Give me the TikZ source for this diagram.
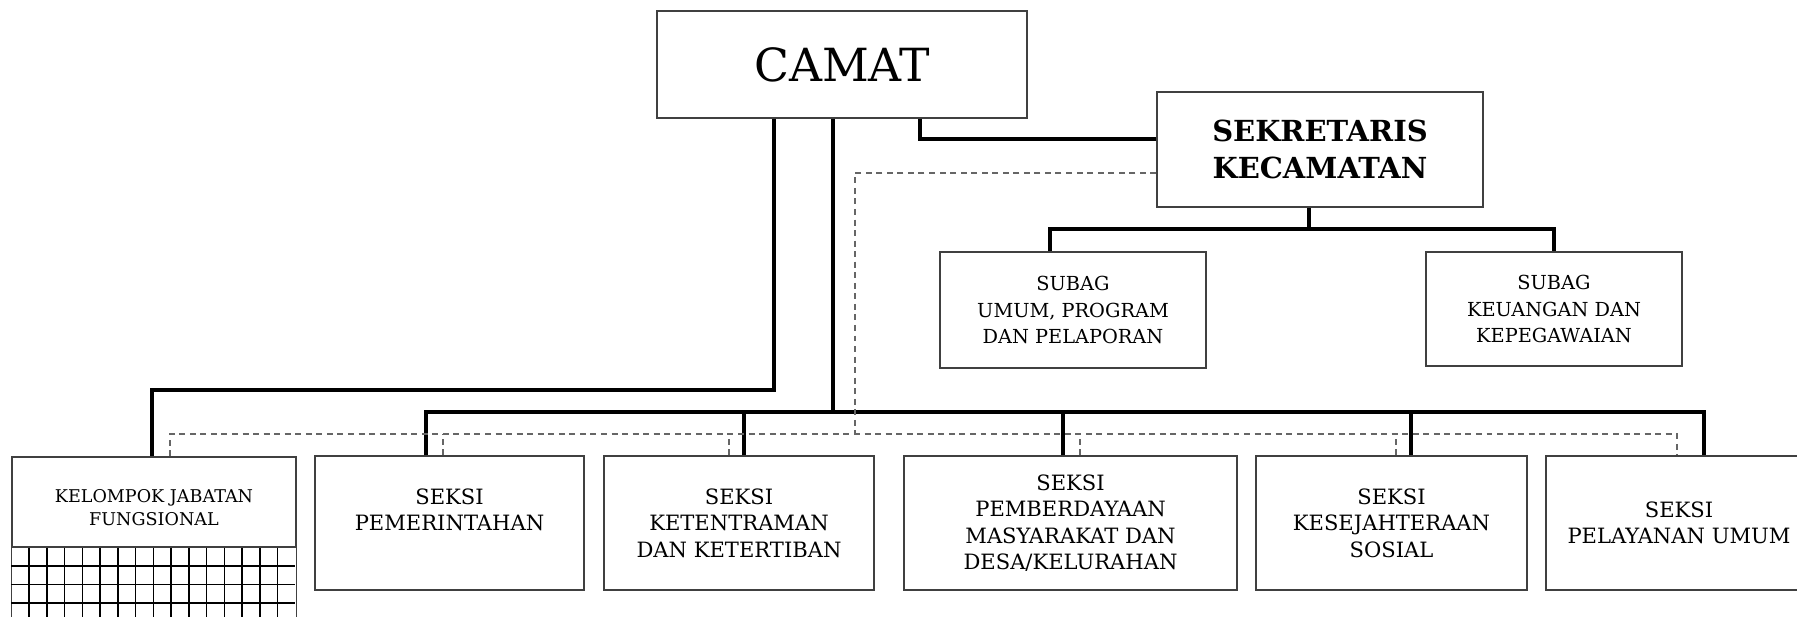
\documentclass[tikz,border=0pt]{standalone}
\usepackage{fontspec}
\setmainfont{DejaVu Serif}
\usetikzlibrary{calc}
\tikzset{%
	unit/.style     = {draw=black!75, line width=0.8pt, rectangle, align=center, inner sep=2pt},
	seksi/.style    = {unit, minimum height=2.68cm, font=\fontsize{12}{15}\selectfont},
	subag/.style    = {unit, font=\fontsize{11}{15.3}\selectfont},
	link/.style     = {line width=2.2pt, line join=miter},
	staff/.style    = {draw=black!60, line width=0.8pt, dash pattern=on 3.4pt off 2.6pt},
	gridline/.style = {line width=0.9pt, black},
}

\begin{document}
\begin{tikzpicture}[x=0.02cm, y=-0.02cm]
	\useasboundingbox (0,0) rectangle (1797,617);
	\clip (0,0) rectangle (1797,617);

	\node[unit, minimum width=7.4cm, minimum height=2.14cm, font=\fontsize{26}{30}\selectfont] (camat) at (842,64.5) {CAMAT};
	\node[unit, minimum width=6.52cm, minimum height=2.3cm, font=\bfseries\fontsize{16.5}{21.5}\selectfont] (sekr) at (1320,149.5) {SEKRETARIS\\KECAMATAN};
	\node[subag, minimum width=5.32cm, minimum height=2.32cm] (subag1) at (1073,310) {SUBAG\\UMUM, PROGRAM\\DAN PELAPORAN};
	\node[subag, minimum width=5.12cm, minimum height=2.28cm] (subag2) at (1554,309) {SUBAG\\KEUANGAN DAN\\KEPEGAWAIAN};

	\node[unit, minimum width=5.68cm, minimum height=1.8cm, font=\fontsize{10}{13}\selectfont] (kjf) at (154,502) {\rule{0pt}{14pt}KELOMPOK JABATAN\\FUNGSIONAL};
	\node[seksi, minimum width=5.38cm] (pem) at (449.5,523) {SEKSI\\PEMERINTAHAN\\\mbox{}};
	\node[seksi, minimum width=5.4cm] (ket) at (739,523) {SEKSI\\KETENTRAMAN\\DAN KETERTIBAN};
	\node[seksi, minimum width=6.66cm] (pemb) at (1070.5,523) {SEKSI\\PEMBERDAYAAN\\MASYARAKAT DAN\\DESA/KELURAHAN};
	\node[seksi, minimum width=5.42cm] (kesej) at (1391.5,523) {SEKSI\\KESEJAHTERAAN\\SOSIAL};
	\node[seksi, minimum width=5.32cm] (pelay) at (1679,523) {SEKSI\\PELAYANAN UMUM};

	\draw[unit] (kjf.south west) -- ++(0,80) (kjf.south east) -- ++(0,80);
	\foreach \i in {1,...,15} \draw[gridline] ($(kjf.south west)+(\i*17.75,0)$) -- ++(0,80);
	\foreach \j in {1,...,4} \draw[gridline] ($(kjf.south west)+(0,\j*18.5)$) -- ++(284,0);

	\coordinate (kjfturn) at (774,390);
	\coordinate (bus) at (833,412);
	\coordinate (staffbus) at (855,434);
	\coordinate (subbus) at (1309,229);

	\draw[link] (kjfturn |- camat.south) -- (kjfturn) -| ($(kjf.north)+(-2,0)$);
	\draw[link] (bus |- camat.south) -- (bus);
	\draw[link] ($(pem.north)+(-23.5,0)$) |- (bus) -| ($(pelay.north)+(25,0)$);
	\foreach \n/\dx in {ket/5, pemb/-7.5, kesej/19.5} \draw[link] ($(\n.north)+(\dx,0)$) -- ($(\n.north |- bus)+(\dx,0)$);

	\draw[link] ($(camat.south)+(78,0)$) |- ($(sekr.west)+(0,-10.5)$);
	\draw[link] (subbus |- sekr.south) -- (subbus);
	\draw[link] ($(subag1.north)+(-23,0)$) |- (subbus) -| (subag2.north);

	\draw[staff] ($(sekr.west)+(0,23.5)$) -| (staffbus);
	\draw[staff] ($(kjf.north)+(16,0)$) |- (staffbus) -| ($(pelay.north)+(-2,0)$);
	\foreach \n/\dx in {pem/-6.5, ket/-10, pemb/9.5, kesej/4.5} \draw[staff] ($(\n.north)+(\dx,0)$) -- ($(\n.north |- staffbus)+(\dx,0)$);
\end{tikzpicture}
\end{document}
